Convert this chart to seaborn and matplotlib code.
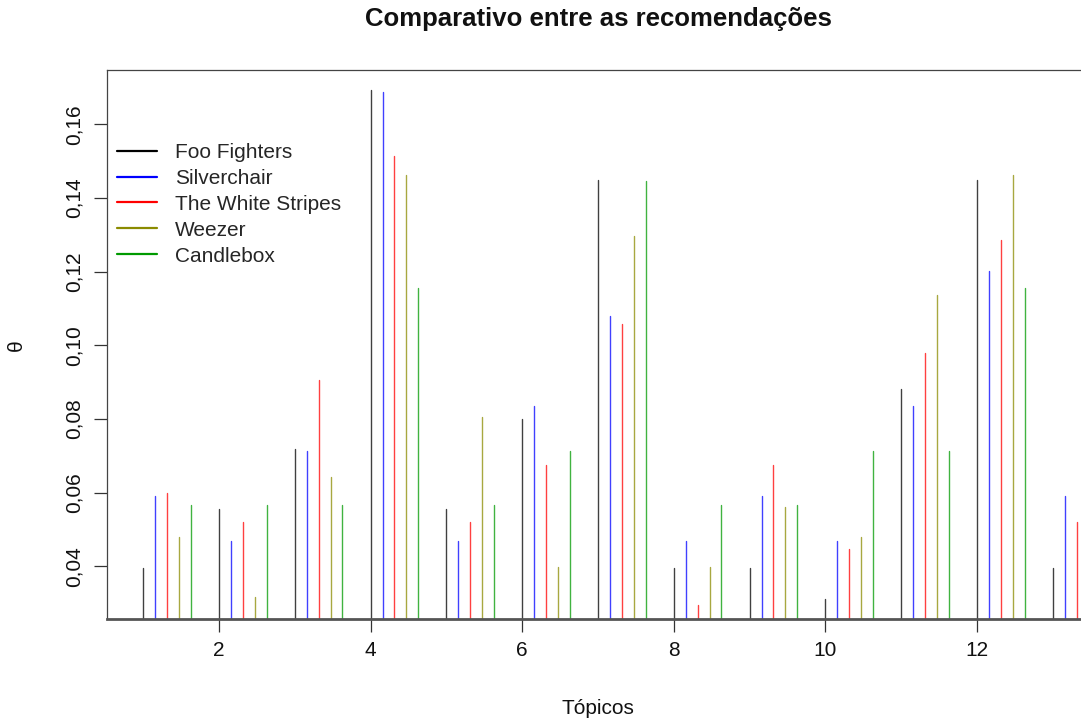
import numpy as np
import pandas as pd
import matplotlib.pyplot as plt
from matplotlib.lines import Line2D
from matplotlib.ticker import FuncFormatter
import seaborn as sns

# valores
topicos = list(range(1, 14))
bandas = ['Foo Fighters', 'Silverchair', 'The White Stripes', 'Weezer', 'Candlebox']
cores = ['black', 'blue', 'red', '#8B8B00', '#009A00']

foo_fighters = [0.0395, 0.0557, 0.0718, 0.1692, 0.0556, 0.0801, 0.1449,
                0.0395, 0.0395, 0.0313, 0.0883, 0.1449, 0.0395]
silverchair = [0.0591, 0.0470, 0.0713, 0.1687, 0.0470, 0.0836, 0.1080,
               0.0470, 0.0591, 0.0470, 0.0836, 0.1201, 0.0591]
white_stripes = [0.0599, 0.0522, 0.0905, 0.1515, 0.0522, 0.0675, 0.1058,
                 0.0295, 0.0675, 0.0447, 0.0980, 0.1286, 0.0522]
weezer = [0.0480, 0.0317, 0.0644, 0.1463, 0.0807, 0.0398, 0.1298,
          0.0398, 0.0561, 0.0479, 0.1137, 0.1463, np.nan]
candlebox = [0.0566, 0.0566, 0.0566, 0.1155, 0.0566, 0.0713, 0.1446,
             0.0566, 0.0566, 0.0713, 0.0713, 0.1155, np.nan]

series = [foo_fighters, silverchair, white_stripes, weezer, candlebox]
desloc = 0.157

# long form: each stem = two points (base and top) sharing a unit id
rows = []
haste = 0
for i, (banda, vals) in enumerate(zip(bandas, series)):
    for t, v in zip(topicos, vals):
        if np.isnan(v):
            continue
        x = t + i * desloc
        rows.append({'haste': haste, 'banda': banda, 'x': x, 'theta': 0.0})
        rows.append({'haste': haste, 'banda': banda, 'x': x, 'theta': v})
        haste += 1
df = pd.DataFrame(rows)

sns.set_theme(style='white')
plt.rcParams['font.family'] = ['Liberation Sans', 'DejaVu Sans']

W, H = 1081, 722
fig = plt.figure(figsize=(W / 100, H / 100), dpi=100)
left, right, top, bottom = 106.5, 1090, 69.8, 618.8
ax = fig.add_axes([left / W, 1 - bottom / H, (right - left) / W, (bottom - top) / H])

sns.lineplot(data=df, x='x', y='theta', hue='banda', hue_order=bandas,
             palette=cores, units='haste', estimator=None, sort=False,
             linewidth=1.0, alpha=0.75, legend=False, ax=ax)

ax.set_xlim(0.5145, 13.49)
ax.set_ylim(0.0258, 0.1748)
ax.set_xticks([2, 4, 6, 8, 10, 12])
ax.set_yticks([0.04, 0.06, 0.08, 0.10, 0.12, 0.14, 0.16])
ax.yaxis.set_major_formatter(FuncFormatter(lambda v, p: f'{v:.2f}'.replace('.', ',')))
ax.set_xlabel('')
ax.set_ylabel('')

ax.tick_params(axis='both', bottom=True, left=True, length=9.7, width=0.9,
               color='#333333', labelsize=15, labelcolor='#111111')
ax.tick_params(axis='x', pad=6)
ax.tick_params(axis='y', pad=7)
for lab in ax.get_yticklabels():
    lab.set_rotation(90)
    lab.set_va('center')

for s in ['left', 'top']:
    ax.spines[s].set_color('#444444')
    ax.spines[s].set_linewidth(0.9)
ax.spines['bottom'].set_color('#555555')
ax.spines['bottom'].set_linewidth(2.0)
ax.spines['right'].set_visible(False)

handles = [Line2D([0], [0], color=c, lw=1.6) for c in cores]
fig.legend(handles, bandas, loc='upper left', bbox_to_anchor=(117 / W, 1 - 143 / H),
           frameon=False, fontsize=15, handlelength=1.9, handletextpad=0.9,
           labelspacing=0.33, borderpad=0, borderaxespad=0)

fig.text(598 / W, 1 - 19 / H, 'Comparativo entre as recomendações',
         ha='center', va='center', fontsize=18.5, fontweight='bold', color='#111111')
fig.text(598 / W, 1 - 708 / H, 'Tópicos', ha='center', va='center',
         fontsize=15, color='#111111')
fig.text(16 / W, 1 - 345 / H, 'θ', ha='center', va='center', rotation=90,
         fontsize=15, color='#111111')

fig.savefig('out.png', dpi=100)
